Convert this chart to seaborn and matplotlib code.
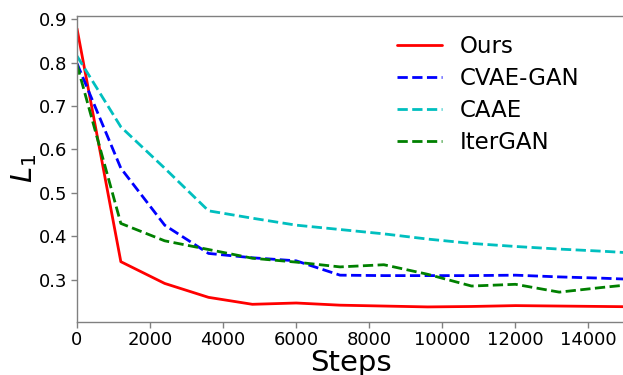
import numpy as np
import pandas as pd
import matplotlib
matplotlib.use("Agg")
import matplotlib.pyplot as plt
import seaborn as sns

steps = [0, 1200, 2400, 3600, 4800, 6000, 7200, 8400, 9600, 10800, 12000, 13200, 14400, 15600]
ours = [0.878, 0.342, 0.292, 0.260, 0.244, 0.247, 0.242, 0.240, 0.238, 0.239, 0.241, 0.240, 0.239, 0.238]
cvae_gan = [0.798, 0.557, 0.426, 0.361, 0.351, 0.344, 0.311, 0.310, 0.310, 0.310, 0.311, 0.307, 0.304, 0.300]
caae = [0.815, 0.652, 0.557, 0.459, 0.442, 0.426, 0.416, 0.406, 0.394, 0.384, 0.377, 0.371, 0.366, 0.360]
itergan = [0.795, 0.430, 0.390, 0.370, 0.350, 0.341, 0.330, 0.335, 0.313, 0.286, 0.290, 0.272, 0.283, 0.293]
methods = ["Ours", "CVAE-GAN", "CAAE", "IterGAN"]

series = {"Ours": ours, "CVAE-GAN": cvae_gan, "CAAE": caae, "IterGAN": itergan}
df = pd.concat(
    [pd.DataFrame({"Steps": steps, "L1": vals, "Method": name}) for name, vals in series.items()],
    ignore_index=True,
)

sns.set_style("white")
plt.rcParams["font.family"] = ["DejaVu Sans"]
plt.rcParams["text.color"] = "black"
plt.rcParams["axes.labelcolor"] = "black"
plt.rcParams["xtick.color"] = "black"
plt.rcParams["ytick.color"] = "black"

fig = plt.figure(figsize=(6.23, 3.75), dpi=100)
ax = fig.add_axes([77 / 623, (375 - 321.7) / 375, (625 - 77) / 623, (321.7 - 16) / 375])

palette = {"Ours": "red", "CVAE-GAN": "blue", "CAAE": "c", "IterGAN": "green"}
dashes = {"Ours": "", "CVAE-GAN": (3.7, 1.6), "CAAE": (3.7, 1.6), "IterGAN": (3.7, 1.6)}
sns.lineplot(data=df, x="Steps", y="L1", hue="Method", style="Method", hue_order=methods,
             style_order=methods, palette=palette, dashes=dashes, linewidth=2, ax=ax)

ax.set_xlim(0, 15000)
ax.set_ylim(0.204, 0.907)
ax.set_xticks([0, 2000, 4000, 6000, 8000, 10000, 12000, 14000])
ax.set_yticks([0.3, 0.4, 0.5, 0.6, 0.7, 0.8, 0.9])
ax.tick_params(axis="both", labelsize=13, length=4, width=1, color="#808080", labelcolor="black",
               direction="out", left=True, bottom=True, pad=3)
for s in ax.spines.values():
    s.set_color("#808080")
    s.set_linewidth(1)

ax.set_xlabel("Steps", fontsize=21, labelpad=0, color="black")
ax.set_ylabel(r"$L_1$", fontsize=21, labelpad=0, color="black")

handles, labels = ax.get_legend_handles_labels()
leg = ax.legend(handles, labels, loc="upper right", bbox_to_anchor=(0.954, 1.006), frameon=False,
                fontsize=16.5, handlelength=2, handletextpad=0.75, labelspacing=0.4)
for t in leg.get_texts():
    t.set_color("black")

fig.savefig("out.png", dpi=100)
